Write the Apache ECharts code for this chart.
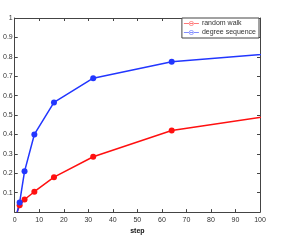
<!DOCTYPE html>
<html><head><meta charset="utf-8">
<script src="https://cdn.jsdelivr.net/npm/echarts@6/dist/echarts.min.js"></script>
<style>html,body{margin:0;padding:0;background:#fff}#c{width:291px;height:240px}</style>
</head><body><div id="c"></div>
<script>
const steps = [1, 2, 4, 8, 16, 32, 64, 128];
const randomWalk = [0.0, 0.035, 0.065, 0.105, 0.18, 0.285, 0.42, 0.54];
const degreeSequence = [0.0, 0.05, 0.21, 0.40, 0.565, 0.69, 0.775, 0.84];
const xTicks = [0, 10, 20, 30, 40, 50, 60, 70, 80, 90, 100];
const yTicks = [0, 0.1, 0.2, 0.3, 0.4, 0.5, 0.6, 0.7, 0.8, 0.9, 1];
const names = ['random walk', 'degree sequence'];

const RED = '#ff1010', BLUE = '#2236ff';
const font = 'Liberation Sans, Arial, sans-serif';
// legend glyph: thin line with a hollow circle marker
const LEGEND_ICON = 'path://M0,2.6L16,2.6L16,3.4L0,3.4Z' +
  'M10.5,3A2.5,2.5 0 1,0 5.5,3A2.5,2.5 0 1,0 10.5,3Z' +
  'M9.8,3A1.8,1.8 0 1,1 6.2,3A1.8,1.8 0 1,1 9.8,3Z';
const axisCommon = {
  type: 'value',
  axisLine: { show: true, onZero: false, lineStyle: { color: '#444', width: 1 } },
  axisTick: { show: true, inside: true, length: 3, lineStyle: { color: '#444' } },
  splitLine: { show: false }
};
const chart = echarts.init(document.getElementById('c'));
// first point is the line's start on the axis; drawn without a marker
const pairs = (ys) => steps.map((x, i) => i === 0 ? { value: [x, ys[i]], symbol: 'none' } : [x, ys[i]]);
const legendItem = (name, col) => ({
  name: name, icon: LEGEND_ICON,
  itemStyle: { color: col, borderWidth: 0, opacity: 0.75 }
});
chart.setOption({
  animation: false,
  textStyle: { fontFamily: font },
  grid: { left: 12, right: 31, top: 18, bottom: 27 },
  legend: {
    data: [legendItem(names[0], RED), legendItem(names[1], BLUE)],
    orient: 'vertical',
    right: 32, top: 18,
    backgroundColor: '#fff',
    borderColor: '#444', borderWidth: 1,
    padding: [2, 3, 2, 2],
    itemGap: 2,
    itemWidth: 15, itemHeight: 5,
    textStyle: { fontSize: 7, color: '#333', fontFamily: font, padding: [0, 0, 0, -2] }
  },
  xAxis: [
    Object.assign({}, axisCommon, {
      min: xTicks[0], max: xTicks[xTicks.length - 1], interval: 10, position: 'bottom',
      name: 'step', nameLocation: 'middle', nameGap: 12,
      nameTextStyle: { fontSize: 7, fontWeight: 'bold', color: '#111' },
      axisLabel: { fontSize: 7, color: '#333', margin: 4 }
    }),
    Object.assign({}, axisCommon, {
      min: xTicks[0], max: xTicks[xTicks.length - 1], interval: 10, position: 'top',
      axisLabel: { show: false }
    })
  ],
  yAxis: [
    Object.assign({}, axisCommon, {
      min: yTicks[0], max: yTicks[yTicks.length - 1], interval: 0.1, position: 'left',
      axisLabel: { fontSize: 7, color: '#333', margin: 2,
        formatter: v => (v === 0 ? '' : String(+v.toFixed(1))) }
    }),
    Object.assign({}, axisCommon, {
      min: yTicks[0], max: yTicks[yTicks.length - 1], interval: 0.1, position: 'right',
      axisLabel: { show: false }
    })
  ],
  series: [
    {
      name: names[0], type: 'line', data: pairs(randomWalk),
      symbol: 'circle', symbolSize: 6, showAllSymbol: true,
      lineStyle: { color: RED, width: 1.5 },
      itemStyle: { color: RED },
      clip: true
    },
    {
      name: names[1], type: 'line', data: pairs(degreeSequence),
      symbol: 'circle', symbolSize: 6, showAllSymbol: true,
      lineStyle: { color: BLUE, width: 1.5 },
      itemStyle: { color: BLUE },
      clip: true
    }
  ]
});
</script></body></html>
